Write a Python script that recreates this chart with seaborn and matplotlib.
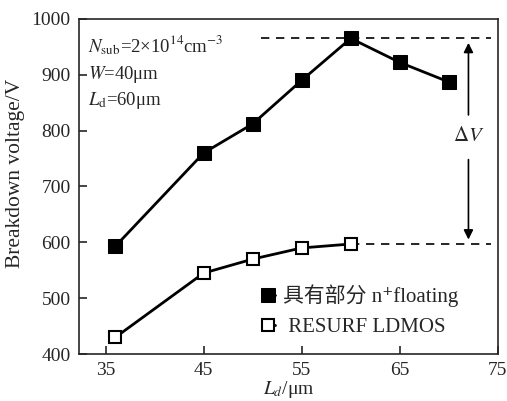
import pandas as pd
import matplotlib.pyplot as plt
import seaborn as sns

# Dados
ld_floating = [36, 45, 50, 55, 60, 65, 70]
bv_floating = [593, 760, 812, 890, 965, 922, 887]
ld_resurf = [36, 45, 50, 55, 60]
bv_resurf = [430, 545, 570, 590, 597]
label_floating = "具有部分 n⁺floating"
label_resurf = " RESURF LDMOS"
x_ticks = [35, 45, 55, 65, 75]
y_ticks = [400, 500, 600, 700, 800, 900, 1000]

df_f = pd.DataFrame({"Ld": ld_floating, "BV": bv_floating})
df_r = pd.DataFrame({"Ld": ld_resurf, "BV": bv_resurf})

sns.set_style("ticks")
plt.rcParams["font.family"] = ["Liberation Serif", "Noto Sans CJK SC", "DejaVu Sans"]
plt.rcParams["mathtext.fontset"] = "stix"
plt.rcParams["font.size"] = 14

fig, ax = plt.subplots(figsize=(5.07, 4.01), dpi=100)

sns.lineplot(data=df_f, x="Ld", y="BV", ax=ax, color="black", linewidth=2,
             marker="s", markersize=9.5, markerfacecolor="black",
             markeredgecolor="black", label=label_floating)
sns.lineplot(data=df_r, x="Ld", y="BV", ax=ax, color="black", linewidth=2,
             marker="s", markersize=9, markerfacecolor="white",
             markeredgecolor="black", markeredgewidth=1.5, label=label_resurf)

# linhas tracejadas e seta de ΔV
top = max(bv_floating)
bot = max(bv_resurf)
ax.plot([50.8, 74.3], [top, top], ls=(0, (5, 4)), color="black", lw=1.2, zorder=1)
ax.plot([60, 74.3], [bot, bot], ls=(0, (5, 4)), color="black", lw=1.2, zorder=1)
ax.annotate("", xy=(72, top - 3), xytext=(72, 823),
            arrowprops=dict(arrowstyle="-|>", color="black", lw=1.2, mutation_scale=14))
ax.annotate("", xy=(72, bot + 3), xytext=(72, 753),
            arrowprops=dict(arrowstyle="-|>", color="black", lw=1.2, mutation_scale=14))
ax.text(72, 790, r"$\Delta V$", ha="center", va="center", fontsize=15)

ax.text(33.2, 953, r"$N_{\rm sub}$=2×10$^{14}$cm$^{-3}$", fontsize=13.5, va="center")
ax.text(33.2, 900, r"$W$=40μm", fontsize=13.5, va="center")
ax.text(33.2, 854, r"$L_{\rm d}$=60μm", fontsize=13.5, va="center")

ax.set_xlim(32.3, 75)
ax.set_ylim(400, 1000)
ax.set_xticks(x_ticks)
ax.set_yticks(y_ticks)
ax.tick_params(direction="in", length=6, width=1.2, labelsize=14, pad=6)
ax.set_xlabel(r"$L_d$/μm", fontsize=14, labelpad=0)
ax.set_ylabel("Breakdown voltage/V", fontsize=15.5)
ax.yaxis.set_label_coords(-0.128, 0.54)
for s in ax.spines.values():
    s.set_linewidth(1.2)

ax.legend(loc="upper left", bbox_to_anchor=(0.437, 0.208), frameon=False,
          borderaxespad=0, borderpad=0,
          handlelength=0.6, handletextpad=0.4, fontsize=15, labelspacing=0.5)

plt.subplots_adjust(left=0.156, right=0.982, top=0.953, bottom=0.117)
plt.savefig("out.png", dpi=100)
plt.close()
